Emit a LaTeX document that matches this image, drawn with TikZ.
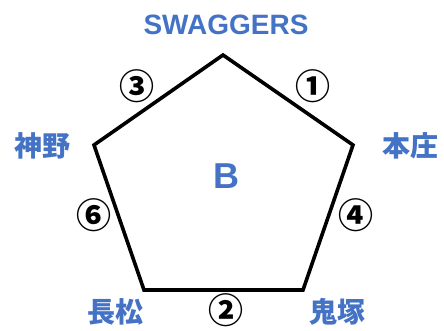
\documentclass[tikz,border=0pt]{standalone}
\usepackage{fontspec}
\setmainfont{Liberation Sans}
\newfontfamily\jpfont{Noto Sans CJK JP}
\definecolor{lblblue}{HTML}{4472C4}
\begin{document}
\begin{tikzpicture}[x=1pt,y=-1pt,
  placelbl/.style={text=lblblue,font=\jpfont\bfseries\fontsize{28}{28}\selectfont,inner sep=0pt},
  numlbl/.style={text=black,font=\jpfont\bfseries\fontsize{35}{35}\selectfont,inner sep=0pt},
  pentaline/.style={line width=3.6pt,line join=miter}]
\useasboundingbox (0,0) rectangle (444,330);
\coordinate (T) at (223,55);
\coordinate (R) at (353,145);
\coordinate (BR) at (303,290);
\coordinate (BL) at (144,290);
\coordinate (L) at (94,145);
\draw[pentaline] (T) -- (R) -- (BR) -- (BL) -- (L) -- cycle;
\node[text=lblblue,font=\bfseries\fontsize{28}{28}\selectfont,inner sep=0pt] (sw) at (226,25) {SWAGGERS};
\node[text=lblblue,font=\bfseries\fontsize{36}{36}\selectfont,inner sep=0pt] (b) at (226,176) {B};
\node[placelbl] (kanno) at (42,146) {神野};
\node[placelbl] (honjo) at (410,146) {本庄};
\node[placelbl] (nagamatsu) at (115,312) {長松};
\node[placelbl] (onizuka) at (337,312) {鬼塚};
\node[numlbl] (n3) at (137,86) {③};
\node[numlbl] (n1) at (313,86) {①};
\node[numlbl] (n6) at (94,215) {⑥};
\node[numlbl] (n4) at (356,215) {④};
\node[numlbl] (n2) at (226,310) {②};
\end{tikzpicture}
\end{document}
